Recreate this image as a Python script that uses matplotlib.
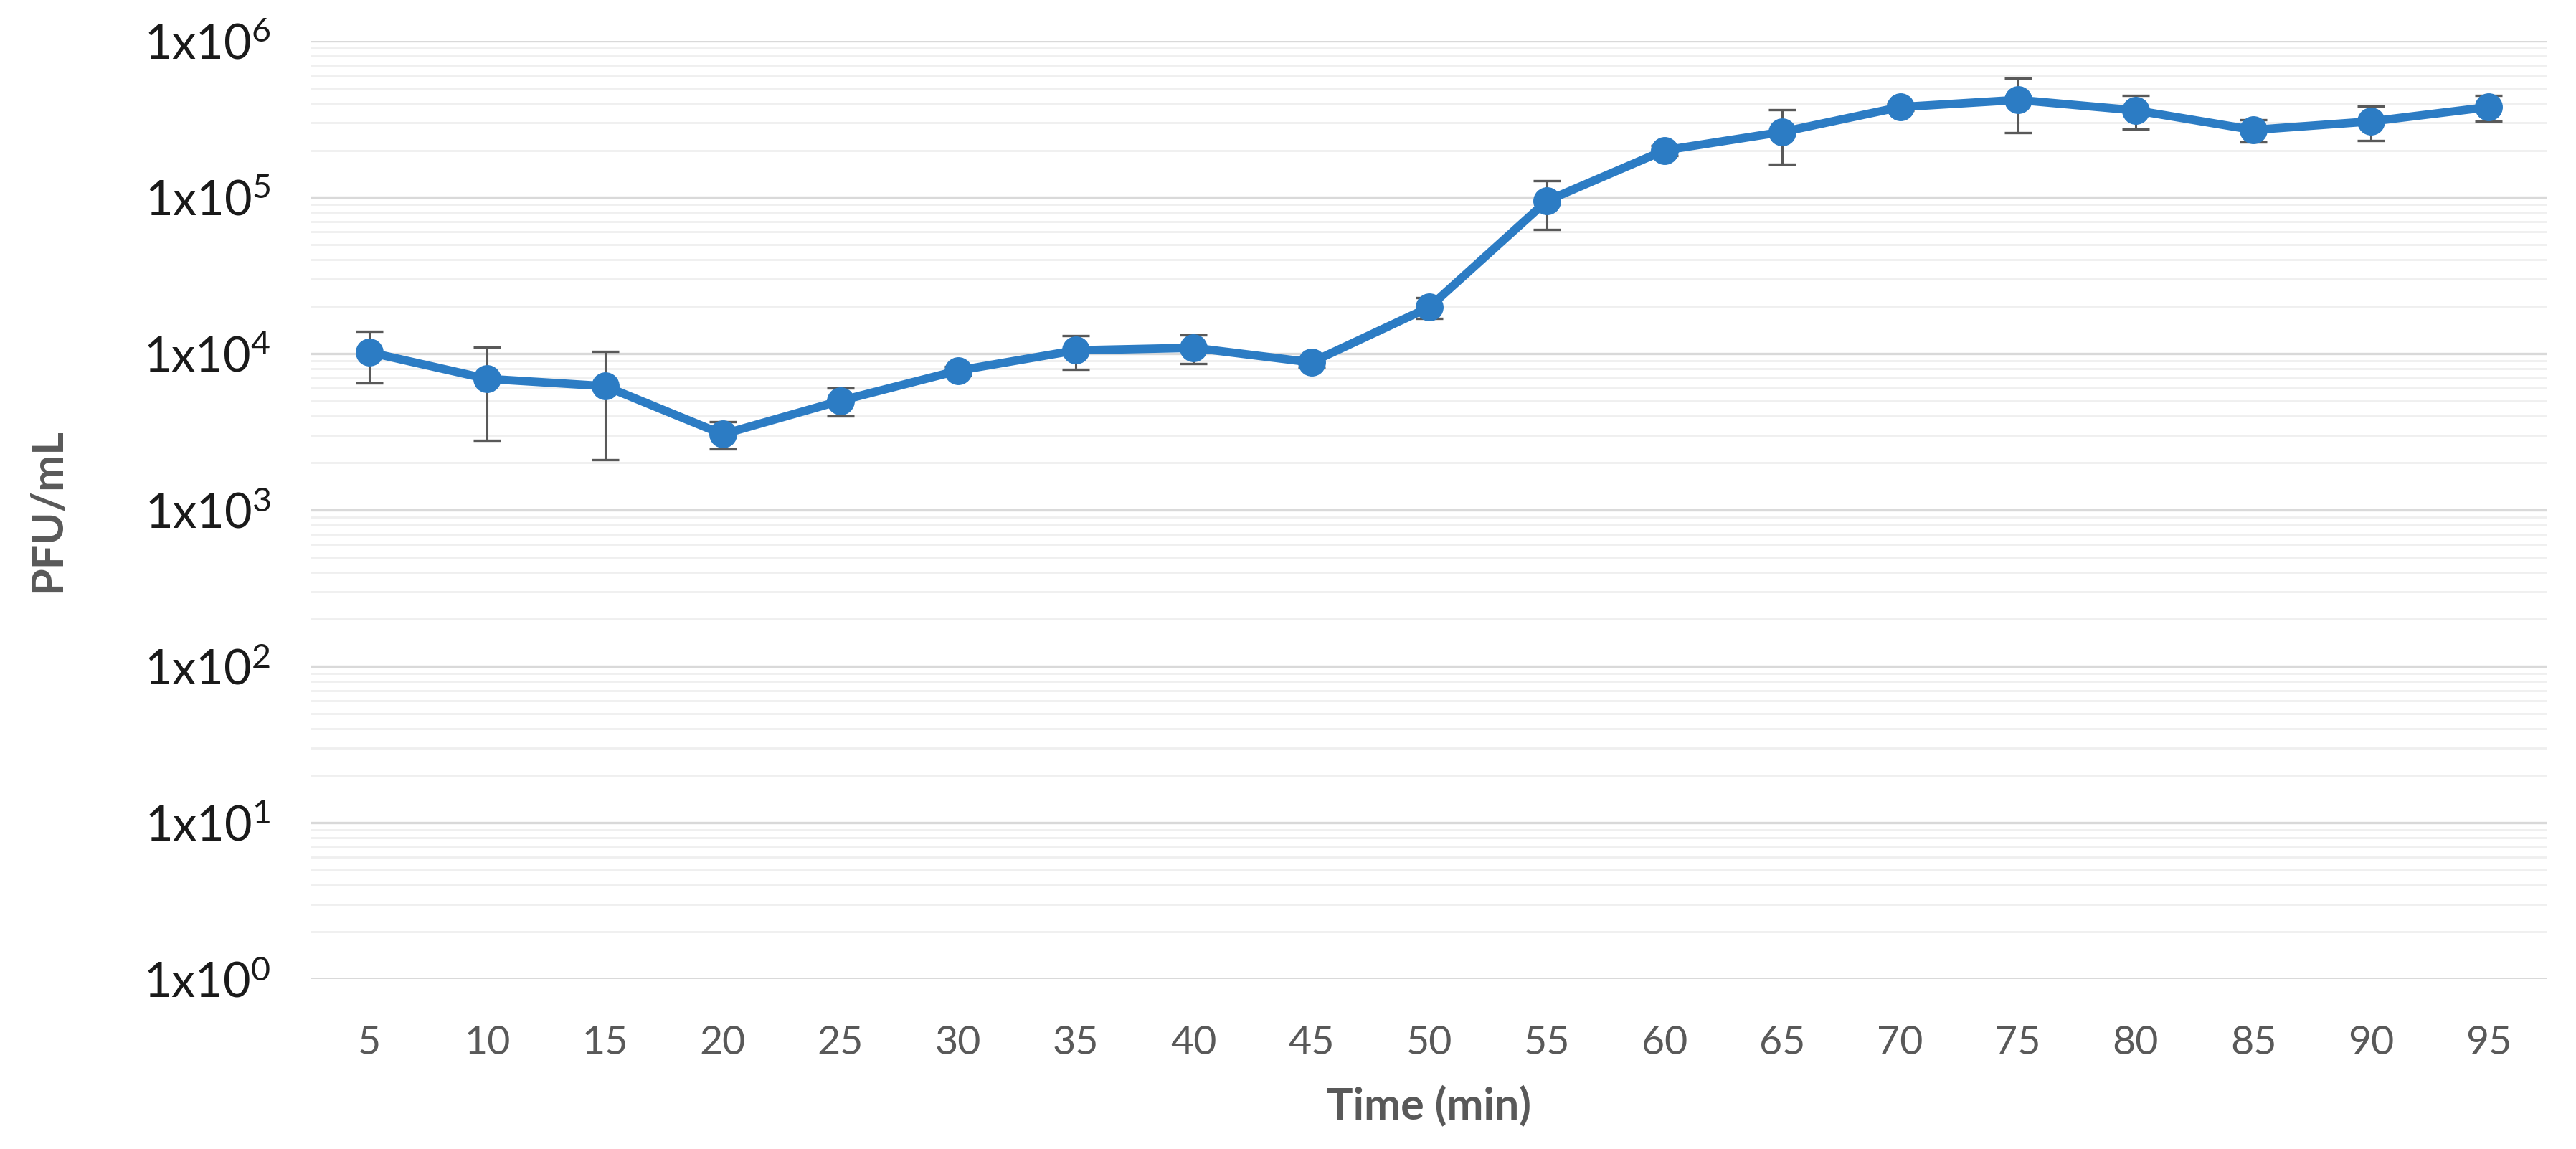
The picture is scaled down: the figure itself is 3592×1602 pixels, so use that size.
import math
import matplotlib
matplotlib.use("Agg")
import matplotlib.pyplot as plt
from matplotlib.ticker import LogLocator, FixedLocator, NullFormatter, FuncFormatter

# ---- data ----
time_min = [5, 10, 15, 20, 25, 30, 35, 40, 45, 50, 55, 60, 65, 70, 75, 80, 85, 90, 95]
pfu_ml = [1.02e4, 6.9e3, 6.2e3, 3.05e3, 5.0e3, 7.8e3, 1.05e4, 1.09e4, 8.8e3, 1.98e4,
          9.5e4, 2.0e5, 2.62e5, 3.78e5, 4.2e5, 3.6e5, 2.7e5, 3.06e5, 3.78e5]
pfu_err = [3.7e3, 4.1e3, 4.1e3, 6.0e2, 1.0e3, 5.0e2, 2.6e3, 2.3e3, 6.0e2, 3.0e3,
           3.3e4, 1.5e4, 1.0e5, 2.0e4, 1.6e5, 8.7e4, 4.5e4, 7.6e4, 7.2e4]
y_exponents = [0, 1, 2, 3, 4, 5, 6]
x_label = "Time (min)"
y_label = "PFU/mL"

FONT = "Lato"
plt.rcParams['font.family'] = [FONT, 'DejaVu Sans']
plt.rcParams['mathtext.fontset'] = 'custom'
plt.rcParams['mathtext.rm'] = FONT
plt.rcParams['mathtext.it'] = FONT + ':italic'
plt.rcParams['mathtext.bf'] = FONT + ':bold'

fig = plt.figure(figsize=(35.92, 16.02), dpi=100)
ax = fig.add_axes([0.1206, 0.148, 0.989 - 0.1206, 0.9643 - 0.148])

pos = list(range(len(time_min)))
blue = "#2C7CC4"

ax.errorbar(pos, pfu_ml, yerr=pfu_err, fmt='none', ecolor="#595959",
            elinewidth=2.2, capsize=14, capthick=2.4, zorder=3)
ax.plot(pos, pfu_ml, color=blue, lw=8.5, marker='o', markersize=27,
        markerfacecolor=blue, markeredgecolor=blue, zorder=4)

ax.set_yscale('log')
ax.set_ylim(10 ** y_exponents[0], 10 ** y_exponents[-1])
ax.set_xlim(-0.5, len(pos) - 0.5)

ax.yaxis.set_major_locator(FixedLocator([10 ** e for e in y_exponents]))
ax.yaxis.set_major_formatter(FuncFormatter(
    lambda v, p: r"$\mathregular{1x10^{%d}}$" % round(math.log10(v))))
ax.yaxis.set_minor_locator(LogLocator(base=10, subs=range(2, 10), numticks=100))
ax.yaxis.set_minor_formatter(NullFormatter())

ax.set_xticks(pos)
ax.set_xticklabels([str(t) for t in time_min])

ax.grid(True, which='major', axis='y', color="#D9D9D9", lw=2.4, zorder=0)
ax.grid(True, which='minor', axis='y', color="#EFEFEF", lw=2.0, zorder=0)
ax.grid(False, axis='x')
ax.set_axisbelow(True)

for s in ax.spines.values():
    s.set_visible(False)
ax.tick_params(axis='both', which='both', length=0)
ax.tick_params(axis='y', labelsize=48, labelcolor="#1a1a1a", pad=40)
ax.tick_params(axis='x', labelsize=40, labelcolor="#595959", pad=46)

ax.set_xlabel(x_label, fontsize=44, fontweight='bold', color="#595959")
ax.set_ylabel(y_label, fontsize=44, fontweight='bold', color="#595959")
ax.xaxis.set_label_coords(0.5, -0.113)
ax.yaxis.set_label_coords(-0.109, 0.5)

fig.savefig("out.png", dpi=100, facecolor="white")
